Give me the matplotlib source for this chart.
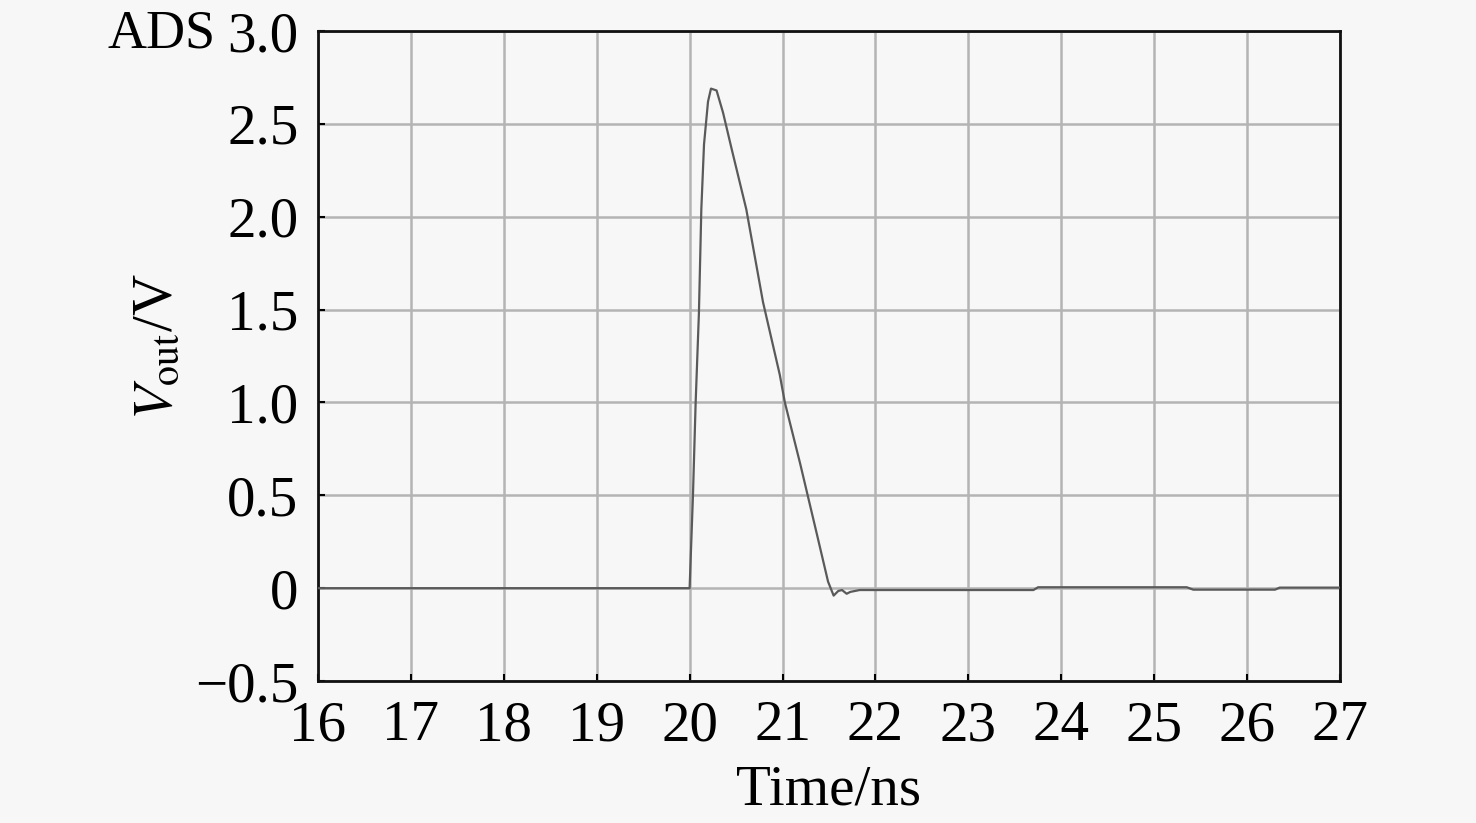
import matplotlib
matplotlib.use('Agg')
import matplotlib.pyplot as plt

# pulse
t_ns = [16.0, 19.98, 20.0, 20.036, 20.065, 20.10, 20.126, 20.155, 20.198, 20.23,
        20.29, 20.36, 20.45, 20.61, 20.79, 20.97, 21.025, 21.19, 21.37, 21.49,
        21.55, 21.60, 21.64, 21.69, 21.73, 21.83, 23.7, 23.75, 25.35, 25.42,
        26.3, 26.35, 27.0]
v_out = [0.0, 0.0, 0.0, 0.5, 1.0, 1.48, 2.04, 2.39, 2.62, 2.69,
         2.68, 2.56, 2.37, 2.04, 1.54, 1.15, 1.0, 0.67, 0.29, 0.035,
         -0.04, -0.015, -0.01, -0.03, -0.02, -0.01, -0.01, 0.005, 0.005, -0.008,
         -0.008, 0.003, 0.003]

x_ticks = list(range(16, 28))
y_ticks = [-0.5, 0, 0.5, 1.0, 1.5, 2.0, 2.5, 3.0]
y_labels = ['\u22120.5', '0', '0.5', '1.0', '1.5', '2.0', '2.5', '3.0']

plt.rcParams['font.family'] = ['Liberation Serif', 'DejaVu Serif']
plt.rcParams['mathtext.fontset'] = 'stix'

bg = '#f7f7f7'
fs = 41
fig = plt.figure(figsize=(14.76, 8.23), dpi=100, facecolor=bg)
ax = fig.add_axes([0.2154, 0.1725, 0.6925, 0.7898], facecolor=bg)

ax.plot(t_ns, v_out, '-', color='#5a5a5a', lw=1.6, zorder=3)

ax.set_xlim(16, 27)
ax.set_ylim(-0.5, 3.0)
ax.set_xticks(x_ticks)
ax.set_yticks(y_ticks)
ax.set_yticklabels(y_labels)
ax.grid(True, color='#b4b4b4', lw=1.8)
ax.tick_params(direction='in', length=5, width=1.5, labelsize=fs, pad=14,
               top=False, right=False)
for s in ax.spines.values():
    s.set_linewidth(2)
    s.set_color('#111111')

ax.set_xlabel('Time/ns', fontsize=fs, labelpad=9)
ax.set_ylabel(r'$V_{\rm out}$/V', fontsize=fs)
ax.yaxis.set_label_coords(-0.132, 0.515)
fig.text(108 / 1476, 1 - 47 / 823, 'ADS', fontsize=39, va='baseline', ha='left')

fig.savefig('out.png', dpi=100, facecolor=bg)
